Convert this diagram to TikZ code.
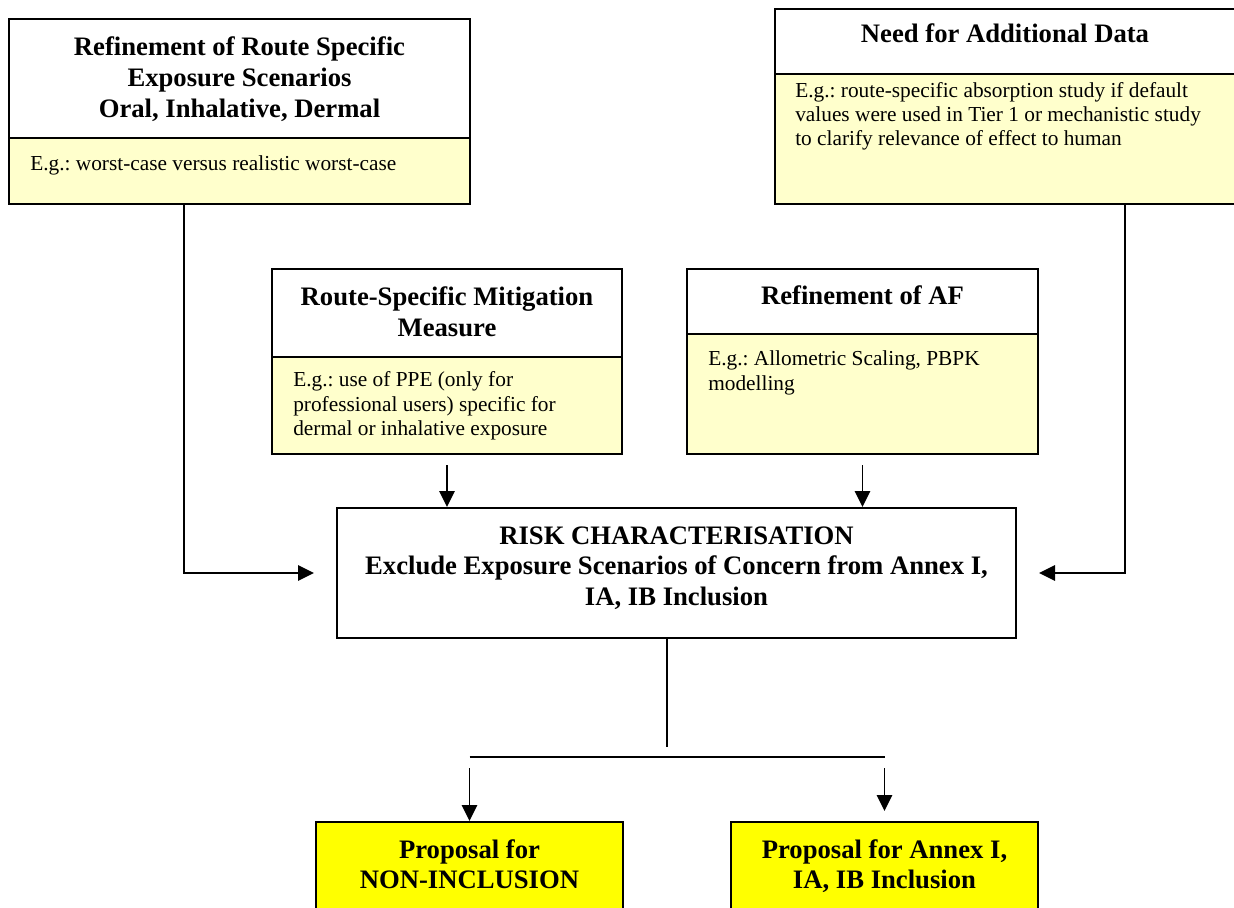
\documentclass[tikz,border=0pt]{standalone}
\usepackage{fontspec}
\setmainfont{Liberation Serif}
\usetikzlibrary{arrows.meta,fit,calc}
\definecolor{paleyellow}{HTML}{FFFFCC}
\definecolor{brightyellow}{HTML}{FFFF00}
\frenchspacing
\tikzset{
 boxhead/.style={draw=black, line width=1.5pt, fill=white, inner sep=0pt},
 boxbody/.style={draw=black, line width=1.5pt, fill=paleyellow, inner sep=0pt},
 outcome/.style={draw=black, line width=1.5pt, fill=brightyellow, inner sep=0pt},
 ttl/.style={anchor=base, inner sep=0pt, font=\fontsize{20}{23}\selectfont\bfseries},
 txt/.style={anchor=base west, inner sep=0pt, font=\fontsize{16}{18.5}\selectfont},
 conn/.style={line width=1.4pt},
 arr/.style={line width=1.4pt, -{Triangle[length=12pt,width=11.5pt]}},
}
\begin{document}
\begin{tikzpicture}[x=0.75pt, y=-0.75pt]
\useasboundingbox (0,0) rectangle (1234,907);
\clip (0,0) rectangle (1234,907);
\fill[white] (0,0) rectangle (1234,907);

% top-left box
\node[boxhead, fit={(9,19) (470,138)}] (tlhead) {};
\node[boxbody, fit={(9,138) (470,204)}] (tlbody) {};
\node[ttl] (tlt1) at (239.5,55) {Refinement of Route Specific};
\node[ttl] (tlt2) at (239.5,86) {Exposure Scenarios};
\node[ttl] (tlt3) at (239.5,117) {Oral, Inhalative, Dermal};
\node[txt] (tlb1) at (30,170) {E.g.: worst-case versus realistic worst-case};

% top-right box
\node[boxhead, fit={(775,9) (1237,74)}] (trhead) {};
\node[boxbody, fit={(775,74) (1237,204)}] (trbody) {};
\node[ttl] (trt1) at (1005,42) {Need for Additional Data};
\node[txt] (trb1) at (795,97) {E.g.: route-specific absorption study if default};
\node[txt] (trb2) at (795,121) {values were used in Tier 1 or mechanistic study};
\node[txt] (trb3) at (795,145) {to clarify relevance of effect to human};

% mitigation box
\node[boxhead, fit={(272,269) (622,357)}] (mithead) {};
\node[boxbody, fit={(272,357) (622,454)}] (mitbody) {};
\node[ttl] (mitt1) at (447,305) {Route-Specific Mitigation};
\node[ttl] (mitt2) at (447,336) {Measure};
\node[txt] (mitb1) at (293,386) {E.g.: use of PPE (only for};
\node[txt] (mitb2) at (293,411) {professional users) specific for};
\node[txt] (mitb3) at (293,435) {dermal or inhalative exposure};

% AF box
\node[boxhead, fit={(687,269) (1038,334)}] (afhead) {};
\node[boxbody, fit={(687,334) (1038,454)}] (afbody) {};
\node[ttl] (aft1) at (862.5,304) {Refinement of AF};
\node[txt] (afb1) at (708,365) {E.g.: Allometric Scaling, PBPK};
\node[txt] (afb2) at (708,390) {modelling};

% risk characterisation
\node[boxhead, fit={(337,508) (1016,638)}] (risk) {};
\node[ttl] (rt1) at (676.5,544) {RISK CHARACTERISATION};
\node[ttl] (rt2) at (676.5,574) {Exclude Exposure Scenarios of Concern from Annex I,};
\node[ttl] (rt3) at (676.5,605) {IA, IB Inclusion};

% outcomes
\node[outcome, fit={(316,822) (623,940)}] (nonincl) {};
\node[ttl] (nt1) at (469.5,858) {Proposal for};
\node[ttl] (nt2) at (469.5,888) {NON-INCLUSION};
\node[outcome, fit={(731,822) (1038,940)}] (incl) {};
\node[ttl] (it1) at (884.5,858) {Proposal for Annex I,};
\node[ttl] (it2) at (884.5,888) {IA, IB Inclusion};

% connectors
\coordinate (c1) at (184,0);
\coordinate (c2) at (1125,0);
\draw[arr, shorten >=16.5pt] (tlbody.south -| c1) |- (risk.west);
\draw[arr, shorten >=16.5pt] (trbody.south -| c2) |- (risk.east);
\draw[arr, shorten <=7.5pt] (mitbody.south) -- (risk.north -| mitbody.south);
\draw[arr, shorten <=7.5pt] (afbody.south) -- (risk.north -| afbody.south);

\coordinate (c3) at (667,747);
\coordinate (hl) at (469.5,757);
\coordinate (hr) at (884.5,757);
\draw[conn] (risk.south -| c3) -- (c3);
\draw[conn] (hl) -- (hr);
\draw[arr, shorten <=8.25pt] (hl) -- (nonincl.north -| hl);
\draw[arr, shorten <=8.25pt, shorten >=7.5pt] (hr) -- (incl.north -| hr);
\end{tikzpicture}
\end{document}
